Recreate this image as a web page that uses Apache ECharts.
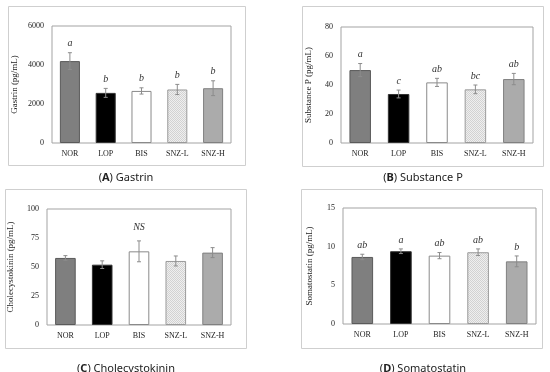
<!DOCTYPE html>
<html><head><meta charset="utf-8">
<script src="https://cdn.jsdelivr.net/npm/echarts@6/dist/echarts.min.js"></script>
<style>html,body{margin:0;padding:0;background:#fff}#c{width:550px;height:372px}</style>
</head><body><div id="c"></div>
<script>
const categories = ['NOR', 'LOP', 'BIS', 'SNZ-L', 'SNZ-H'];

const gastrinMean = [4200, 2570, 2670, 2745, 2810];
const gastrinErr = [430, 230, 160, 260, 380];
const gastrinLetters = ['a', 'b', 'b', 'b', 'b'];
const gastrinTicks = [0, 2000, 4000, 6000];

const substanceMean = [50.3, 33.8, 41.8, 37.0, 44.1];
const substanceErr = [4.5, 2.7, 2.8, 3.0, 3.9];
const substanceLetters = ['a', 'c', 'ab', 'bc', 'ab'];
const substanceTicks = [0, 20, 40, 60, 80];

const cckMean = [57.8, 52.0, 63.5, 55.2, 62.4];
const cckErr = [2.0, 3.3, 9.0, 4.3, 4.3];
const cckLetters = ['', '', 'NS', '', ''];
const cckTicks = [0, 25, 50, 75, 100];

const somaMean = [8.67, 9.41, 8.84, 9.28, 8.10];
const somaErr = [0.35, 0.3, 0.4, 0.43, 0.7];
const somaLetters = ['ab', 'a', 'ab', 'ab', 'b'];
const somaTicks = [0, 5, 10, 15];

const panelTags = ['A', 'B', 'C', 'D'];
const panelNames = ['Gastrin', 'Substance P', 'Cholecystokinin', 'Somatostatin'];
const axisNames = ['Gastrin (pg/mL)', 'Substance P (pg/mL)', 'Cholecystokinin (pg/mL)', 'Somatostatin (pg/mL)'];

// layout (not data)
const layout = [
  {grid: {left: 52, top: 26, width: 179, height: 117}, nameGap: 33, box: [8, 6, 237, 159], title: [126, 178]},
  {grid: {left: 341, top: 27, width: 192, height: 116}, nameGap: 28, box: [302, 6, 241, 160], title: [423, 178]},
  {grid: {left: 47, top: 209, width: 184, height: 116}, nameGap: 32, box: [5, 189, 241, 159], title: [126, 369]},
  {grid: {left: 343, top: 208, width: 193, height: 116}, nameGap: 29, box: [301, 189, 241, 159], title: [423, 369]}
];

const means = [gastrinMean, substanceMean, cckMean, somaMean];
const errs = [gastrinErr, substanceErr, cckErr, somaErr];
const letters = [gastrinLetters, substanceLetters, cckLetters, somaLetters];
const ticks = [gastrinTicks, substanceTicks, cckTicks, somaTicks];

// fine dotted pattern for SNZ-L
const pc = document.createElement('canvas');
pc.width = 2; pc.height = 2;
const pctx = pc.getContext('2d');
pctx.fillStyle = '#efefef'; pctx.fillRect(0, 0, 2, 2);
pctx.fillStyle = '#d2d2d2'; pctx.fillRect(0, 0, 1, 1); pctx.fillRect(1, 1, 1, 1);

const barFills = ['#7f7f7f', '#000000', '#ffffff', {image: pc, repeat: 'repeat'}, '#ababab'];
const barBorders = ['#5a5a5a', '#333333', '#8a8a8a', '#9a9a9a', '#808080'];

const serif = '"Liberation Serif", "DejaVu Serif", serif';
const sans = '"Noto Sans", "Open Sans", sans-serif';

const grids = [], xAxes = [], yAxes = [], series = [], titles = [], graphics = [];
for (let p = 0; p < 4; p++) {
  const L = layout[p];
  grids.push(Object.assign({show: true, borderColor: '#a3a3a3', borderWidth: 1, backgroundColor: 'transparent'}, L.grid));
  xAxes.push({
    type: 'category', gridIndex: p, data: categories,
    axisLine: {show: false}, axisTick: {show: false},
    axisLabel: {fontFamily: serif, fontSize: 8, color: '#222', margin: 7}
  });
  const t = ticks[p];
  yAxes.push({
    type: 'value', gridIndex: p, min: t[0], max: t[t.length - 1], interval: t[1] - t[0],
    splitLine: {show: false}, axisLine: {show: false}, axisTick: {show: false},
    axisLabel: {fontFamily: serif, fontSize: 8, color: '#222', margin: 8, formatter: v => String(v)},
    name: axisNames[p], nameLocation: 'middle', nameGap: L.nameGap,
    nameTextStyle: {fontFamily: serif, fontSize: 9, color: '#222'}
  });
  series.push({
    type: 'bar', xAxisIndex: p, yAxisIndex: p, barWidth: '56%',
    data: means[p].map((v, i) => ({value: v, itemStyle: {color: barFills[i], borderColor: barBorders[i], borderWidth: 1}})),
    silent: true, animation: false
  });
  const lets = letters[p];
  series.push({
    type: 'custom', xAxisIndex: p, yAxisIndex: p, z: 5, clip: false, animation: false, silent: true,
    data: means[p].map((v, i) => [i, v, errs[p][i]]),
    renderItem: function (params, api) {
      const x = api.value(0), m = api.value(1), e = api.value(2);
      const top = api.coord([x, m + e]);
      const bot = api.coord([x, m - e]);
      const st = {stroke: '#8c8c8c', lineWidth: 1};
      const children = [
        {type: 'line', shape: {x1: top[0], y1: top[1], x2: bot[0], y2: bot[1]}, style: st},
        {type: 'line', shape: {x1: top[0] - 2, y1: top[1], x2: top[0] + 2, y2: top[1]}, style: st},
        {type: 'line', shape: {x1: bot[0] - 2, y1: bot[1], x2: bot[0] + 2, y2: bot[1]}, style: st}
      ];
      const lab = lets[params.dataIndex];
      if (lab) {
        const gap = lab === 'NS' ? 14 : 9;
        children.push({type: 'text', x: top[0], y: top[1] - gap,
          style: {text: lab, fontFamily: serif, fontStyle: 'italic', fontSize: 10, fill: '#333', align: 'center', verticalAlign: 'middle'}});
      }
      return {type: 'group', children: children};
    }
  });
  graphics.push({type: 'rect', shape: {x: L.box[0] + 0.5, y: L.box[1] + 0.5, width: L.box[2], height: L.box[3]},
    style: {fill: 'none', stroke: '#cfcfcf', lineWidth: 1}, silent: true, z: -1});
  graphics.push({type: 'text', x: L.title[0], y: L.title[1], silent: true,
    style: {
      text: '{p|(}{b|' + panelTags[p] + '}{p|) ' + panelNames[p] + '}',
      align: 'center', verticalAlign: 'middle',
      rich: {
        p: {fontFamily: sans, fontSize: 11, fontWeight: 'normal', fill: '#222'},
        b: {fontFamily: sans, fontSize: 11, fontWeight: 'bold', fill: '#222'}
      }
    }});
}

const chart = echarts.init(document.getElementById('c'), null, {renderer: 'canvas'});
chart.setOption({
  animation: false,
  backgroundColor: '#fff',
  grid: grids, xAxis: xAxes, yAxis: yAxes, series: series,
  graphic: graphics
});
</script></body></html>
